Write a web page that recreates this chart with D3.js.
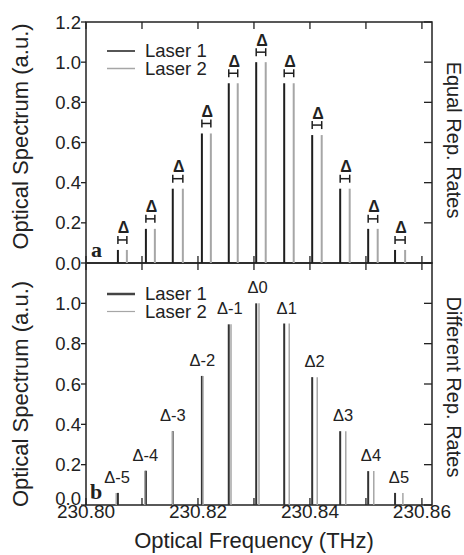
<!DOCTYPE html>
<html lang="en">
<head>
<meta charset="UTF-8">
<title>Optical spectrum</title>
<script src="https://d3js.org/d3.v7.min.js"></script>
<style>
  body { margin: 0; background: #fff; }
  svg text { font-family: "Liberation Sans", Arial, sans-serif; fill: #222; }
  .frame { fill: none; stroke: #222; stroke-width: 1.5; }
  .tick { stroke: #222; stroke-width: 1.3; }
</style>
</head>
<body>
<script>
// comb mode indices and labels
const modeIndex = [-5, -4, -3, -2, -1, 0, 1, 2, 3, 4, 5];
const deltaLabels = ["Δ-5", "Δ-4", "Δ-3", "Δ-2", "Δ-1", "Δ0", "Δ1", "Δ2", "Δ3", "Δ4", "Δ5"];

// panel a : equal repetition rates
const laser1FreqA = [230.8057, 230.8107, 230.8155, 230.8207, 230.8255, 230.8304, 230.8354, 230.8404, 230.8454, 230.8504, 230.8552];
const laser2FreqA = [230.8073, 230.8123, 230.8173, 230.8223, 230.8271, 230.8321, 230.8371, 230.8421, 230.8471, 230.8521, 230.8570];
const spectrumA = [0.065, 0.17, 0.37, 0.645, 0.895, 1.0, 0.895, 0.637, 0.37, 0.17, 0.065];

// panel b : different repetition rates
const laser1FreqB = [230.8057, 230.8107, 230.8155, 230.8207, 230.8255, 230.8304, 230.8354, 230.8404, 230.8454, 230.8504, 230.8552];
const laser2FreqB = [230.8054, 230.8105, 230.8155, 230.8209, 230.8259, 230.8309, 230.8363, 230.8413, 230.8464, 230.8514, 230.8566];
const spectrumB = [0.06, 0.17, 0.366, 0.64, 0.896, 1.0, 0.9, 0.634, 0.366, 0.168, 0.06];

const xTicks = [230.80, 230.81, 230.82, 230.83, 230.84, 230.85, 230.86];
const xTickLabels = ["230.80", "230.82", "230.84", "230.86"];
const yTicksA = [0, 0.2, 0.4, 0.6, 0.8, 1.0, 1.2];
const yTicksB = [0, 0.2, 0.4, 0.6, 0.8, 1.0];

const W = 464, H = 555;
const pLeft = 86, pRight = 432, pTop = 22, pMid = 263, pBottom = 505;

const svg = d3.select("body").append("svg").attr("width", W).attr("height", H);

const x = d3.scaleLinear().domain([230.80, 230.8618]).range([pLeft, pRight]);
const yA = d3.scaleLinear().domain([0, 1.2]).range([pMid, pTop]);
const yB = d3.scaleLinear().domain([0, 1.2]).range([pBottom, pMid]);

const black = "#1e1e1e", gray = "#a6a6a6";

function drawFrame(y, yTicks, yTop, yBot, raiseZero) {
  svg.append("rect").attr("class", "frame")
    .attr("x", pLeft).attr("y", yTop).attr("width", pRight - pLeft).attr("height", yBot - yTop);
  // left ticks outward + labels, right ticks inward
  yTicks.forEach(v => {
    svg.append("line").attr("class", "tick")
      .attr("x1", pLeft - 5).attr("x2", pLeft).attr("y1", y(v)).attr("y2", y(v));
    svg.append("line").attr("class", "tick")
      .attr("x1", pRight - 8).attr("x2", pRight).attr("y1", y(v)).attr("y2", y(v));
    const dy = (raiseZero && v === 0) ? -0.5 : 6.5;
    svg.append("text").attr("x", pLeft - 5).attr("y", y(v) + dy)
      .attr("text-anchor", "end").attr("font-size", 18.5).text(d3.format(".1f")(v));
  });
  // x ticks inward at top and bottom
  xTicks.forEach(v => {
    svg.append("line").attr("class", "tick")
      .attr("x1", x(v)).attr("x2", x(v)).attr("y1", yTop).attr("y2", yTop + 7);
    svg.append("line").attr("class", "tick")
      .attr("x1", x(v)).attr("x2", x(v)).attr("y1", yBot - 7).attr("y2", yBot);
  });
}

drawFrame(yA, yTicksA, pTop, pMid, false);
drawFrame(yB, yTicksB, pMid, pBottom, true);

// ---- panel a lines ----
const gA = svg.append("g");
gA.selectAll(".l1").data(modeIndex).join("line").attr("class", "l1")
  .attr("x1", (d, i) => x(laser1FreqA[i])).attr("x2", (d, i) => x(laser1FreqA[i]))
  .attr("y1", yA(0)).attr("y2", (d, i) => yA(spectrumA[i]))
  .attr("stroke", black).attr("stroke-width", 2);
gA.selectAll(".l2").data(modeIndex).join("line").attr("class", "l2")
  .attr("x1", (d, i) => x(laser2FreqA[i])).attr("x2", (d, i) => x(laser2FreqA[i]))
  .attr("y1", yA(0)).attr("y2", (d, i) => yA(spectrumA[i]))
  .attr("stroke", gray).attr("stroke-width", 2);

// I-beam markers with delta
modeIndex.forEach((d, i) => {
  const x1 = x(laser1FreqA[i]), x2 = x(laser2FreqA[i]);
  const yb = yA(spectrumA[i]) - 10;
  const g = gA.append("g").attr("stroke", black).attr("stroke-width", 1.5);
  g.append("line").attr("x1", x1).attr("x2", x2).attr("y1", yb).attr("y2", yb);
  g.append("line").attr("x1", x1).attr("x2", x1).attr("y1", yb - 4).attr("y2", yb + 4);
  g.append("line").attr("x1", x2).attr("x2", x2).attr("y1", yb - 4).attr("y2", yb + 4);
  gA.append("text").attr("x", (x1 + x2) / 2 + 1).attr("y", yb - 6.5)
    .attr("text-anchor", "middle").attr("font-size", 16).attr("font-weight", "bold").text("Δ");
});

// ---- panel b lines ----
const gB = svg.append("g");
gB.selectAll(".l1").data(modeIndex).join("line").attr("class", "l1")
  .attr("x1", (d, i) => x(laser1FreqB[i])).attr("x2", (d, i) => x(laser1FreqB[i]))
  .attr("y1", yB(0)).attr("y2", (d, i) => yB(spectrumB[i]))
  .attr("stroke", "#333").attr("stroke-width", 2);
gB.selectAll(".l2").data(modeIndex).join("line").attr("class", "l2")
  .attr("x1", (d, i) => x(laser2FreqB[i])).attr("x2", (d, i) => x(laser2FreqB[i]))
  .attr("y1", yB(0)).attr("y2", (d, i) => yB(spectrumB[i]))
  .attr("stroke", gray).attr("stroke-width", 1.5);
gB.selectAll("text").data(modeIndex).join("text")
  .attr("x", (d, i) => (x(laser1FreqB[i]) + x(laser2FreqB[i])) / 2)
  .attr("y", (d, i) => yB(spectrumB[i]) - 10)
  .attr("text-anchor", "middle").attr("font-size", 16.5)
  .text((d, i) => deltaLabels[i]);

// ---- legends ----
function legend(y0, w1, w2, c1) {
  svg.append("line").attr("x1", 107).attr("x2", 135).attr("y1", y0).attr("y2", y0)
    .attr("stroke", c1).attr("stroke-width", w1);
  svg.append("text").attr("x", 145).attr("y", y0 + 6).attr("font-size", 18.5).text("Laser 1");
  svg.append("line").attr("x1", 107).attr("x2", 135).attr("y1", y0 + 17.5).attr("y2", y0 + 17.5)
    .attr("stroke", gray).attr("stroke-width", w2);
  svg.append("text").attr("x", 145).attr("y", y0 + 23.5).attr("font-size", 18.5).text("Laser 2");
}
legend(51, 1.5, 1.5, black);
legend(294, 2.5, 1.2, "#444");

// panel letters
svg.append("text").attr("x", 91).attr("y", 257)
  .style("font-family", "'Liberation Serif', serif").attr("font-weight", "bold").attr("font-size", 22).text("a");
svg.append("text").attr("x", 90).attr("y", 499)
  .style("font-family", "'Liberation Serif', serif").attr("font-weight", "bold").attr("font-size", 22).text("b");

// x tick labels
xTickLabels.forEach(t => {
  svg.append("text").attr("x", x(+t)).attr("y", 518).attr("text-anchor", "middle")
    .attr("font-size", 19).text(t);
});
svg.append("text").attr("x", 254).attr("y", 548).attr("text-anchor", "middle")
  .attr("font-size", 22).text("Optical Frequency (THz)");

// y titles
svg.append("text").attr("transform", `translate(28,${(pTop + pMid) / 2 - 6}) rotate(-90)`)
  .attr("text-anchor", "middle").attr("font-size", 22).text("Optical Spectrum (a.u.)");
svg.append("text").attr("transform", `translate(28,${(pMid + pBottom) / 2 + 10}) rotate(-90)`)
  .attr("text-anchor", "middle").attr("font-size", 22).text("Optical Spectrum (a.u.)");

// right side titles
svg.append("text").attr("transform", `translate(447,140) rotate(90)`)
  .attr("text-anchor", "middle").attr("font-size", 20).text("Equal Rep. Rates");
svg.append("text").attr("transform", `translate(447,387) rotate(90)`)
  .attr("text-anchor", "middle").attr("font-size", 20).text("Different Rep. Rates");
</script>
</body>
</html>
